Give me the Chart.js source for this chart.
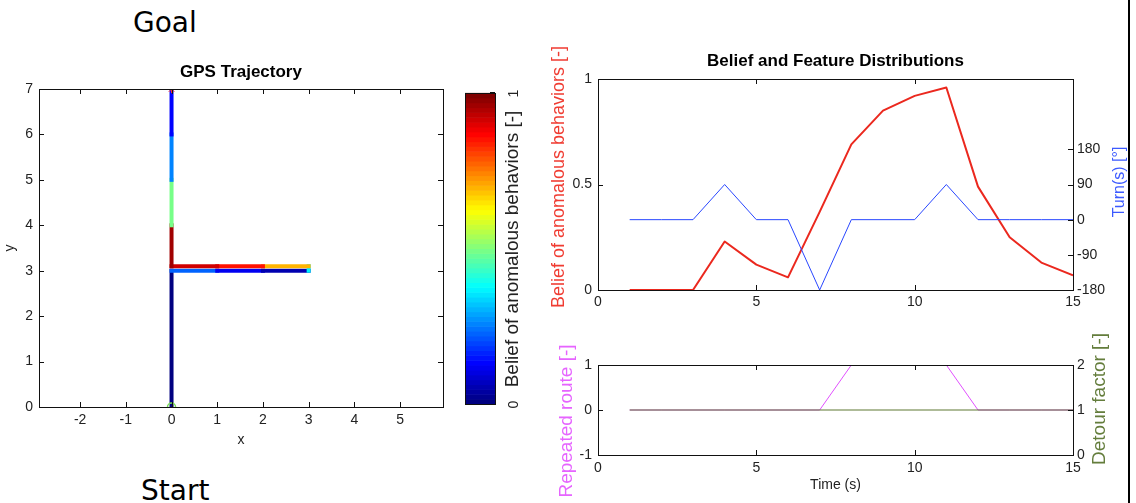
<!DOCTYPE html>
<html><head><meta charset="utf-8">
<script src="https://cdn.jsdelivr.net/npm/chart.js@4.4.1/dist/chart.umd.min.js"></script>
<style>
html,body{margin:0;padding:0;background:#fff;width:1136px;height:503px;overflow:hidden;position:relative;}
canvas{position:absolute;}
.big{position:absolute;font-family:'DejaVu Sans',sans-serif;font-size:28px;line-height:28px;color:#000;white-space:nowrap;}
#vline{position:absolute;left:1128px;top:0;width:2px;height:503px;background:#000;}
</style></head><body>
<div class="big" style="left:133px;top:9px;">Goal</div>
<div class="big" style="left:141px;top:477px;">Start</div>
<div id="vline"></div>
<canvas id="gps" width="460" height="420" style="left:0;top:40px;"></canvas>
<canvas id="cbar" width="340" height="80" style="left:0;top:0;transform-origin:0 0;transform:translate(460px,419px) rotate(-90deg);"></canvas>
<canvas id="r1" width="606" height="270" style="left:530px;top:40px;"></canvas>
<canvas id="r2" width="606" height="173" style="left:530px;top:330px;"></canvas>
<script>
// ---- data ----
const time = [1,2,3,4,5,6,7,8,9,10,11,12,13,14,15];
const belief = [0,0,0,0.23,0.12,0.06,0.37,0.69,0.85,0.92,0.96,0.49,0.25,0.13,0.07];
const turn = [0,0,0,90,0,0,-180,0,0,0,90,0,0,0,0];
const repeated = [0,0,0,0,0,0,0,1,1,1,1,0,0,0,0];
const detour = [1,1,1,1,1,1,1,1,1,1,1,1,1,1,1];
const timeTicks = [0,5,10,15];
const beliefTicks = [0,0.5,1];
const turnTicks = [-180,-90,0,90,180];
const repTicks = [-1,0,1];
const detourTicks = [0,1,2];
const trajX = [0,0,1,2,3,3,2,1,0,0,0,0,0];
const trajY = [0,3,3,3,3,3.1,3.1,3.1,3.1,4,5,6,7];
const segBelief = [0,0.23,0.12,0.06,0.37,0.69,0.85,0.92,0.96,0.49,0.25,0.13];
const gpsXTicks = [-2,-1,0,1,2,3,4,5];
const gpsYTicks = [0,1,2,3,4,5,6,7];
const cbTicks = [0,1];

Chart.defaults.font.family = "'Liberation Sans', Arial, sans-serif";
Chart.defaults.color = '#222';

function jet(v){
  const c = x => Math.max(0, Math.min(1, x));
  const r = c(1.5 - Math.abs(4*v - 3)), g = c(1.5 - Math.abs(4*v - 2)), b = c(1.5 - Math.abs(4*v - 1));
  return 'rgb(' + Math.round(r*255) + ',' + Math.round(g*255) + ',' + Math.round(b*255) + ')';
}
function jetQ(v){ const i = Math.min(63, Math.max(0, Math.floor(v*64))); return jet(i/63); }

function setTicks(arr){ return s => { s.ticks = arr.map(v => ({value: v})); }; }
const plainLabel = v => String(v);

function framePlugin(mirror){
  return {id:'frame', afterDatasetsDraw(chart){
    const ctx = chart.ctx, a = chart.chartArea, L = 5;
    ctx.save(); ctx.strokeStyle = '#111'; ctx.lineWidth = 1; ctx.beginPath();
    for (const id in chart.scales){
      const s = chart.scales[id];
      if (!s.options.display) continue;
      const m = mirror.includes(id);
      s.ticks.forEach(t => {
        const p = Math.round(s.getPixelForValue(t.value)) + 0.5;
        if (s.isHorizontal()){
          ctx.moveTo(p, a.bottom); ctx.lineTo(p, a.bottom - L);
          if (m){ ctx.moveTo(p, a.top); ctx.lineTo(p, a.top + L); }
        } else if (s.position === 'left'){
          ctx.moveTo(a.left, p); ctx.lineTo(a.left + L, p);
          if (m){ ctx.moveTo(a.right, p); ctx.lineTo(a.right - L, p); }
        } else {
          ctx.moveTo(a.right, p); ctx.lineTo(a.right - L, p);
        }
      });
    }
    ctx.stroke();
    ctx.strokeRect(Math.round(a.left) + 0.5, Math.round(a.top) + 0.5, Math.round(a.right - a.left), Math.round(a.bottom - a.top));
    ctx.restore();
  }};
}
function sideTitlePlugin(items){
  return {id:'sideTitles', afterDraw(chart){
    const ctx = chart.ctx;
    items.forEach(it => {
      ctx.save(); ctx.translate(it.x, it.y); ctx.rotate(-Math.PI/2);
      ctx.font = it.size + "px 'Liberation Sans', Arial, sans-serif";
      ctx.fillStyle = it.color; ctx.textAlign = 'center'; ctx.textBaseline = 'middle';
      ctx.fillText(it.text, 0, 0); ctx.restore();
    });
  }};
}
const cbarPlugin = {id:'cbar', beforeDatasetsDraw(chart){
  const ctx = chart.ctx, a = chart.chartArea, n = 64, w = (a.right - a.left)/n;
  for (let i = 0; i < n; i++){
    ctx.fillStyle = jet(i/(n-1));
    ctx.fillRect(a.left + i*w, a.top, w + 0.6, a.bottom - a.top);
  }
}};
const noGrid = {display:false, drawTicks:false};
const noBorder = {display:false};
const tickFont = {size:14};
const base = {responsive:false, animation:false, events:[], plugins:{legend:{display:false}, tooltip:{enabled:false}}};

// ---- GPS trajectory ----
new Chart(document.getElementById('gps'), {
  type:'scatter',
  data:{datasets:[
    {data:[{x:trajX[trajX.length-1], y:trajY[trajY.length-1]}], pointStyle:'star', pointRadius:4, borderColor:'#ff3333', borderWidth:1},
    {data:[{x:trajX[0], y:trajY[0]}], pointStyle:'circle', pointRadius:4, borderColor:'#77dd55', backgroundColor:'rgba(0,0,0,0)', borderWidth:1.5},
    {data: trajX.map((x,i) => ({x:x, y:trajY[i]})), showLine:true, borderWidth:4, pointRadius:0,
     borderColor: jetQ(segBelief[0]), borderCapStyle:'square', borderJoinStyle:'miter',
     segment:{borderColor: c => jetQ(segBelief[c.p0DataIndex])}}
  ]},
  options:Object.assign({}, base, {
    layout:{padding:{left:0, right:17, top:0, bottom:0}},
    plugins:Object.assign({}, base.plugins, {title:{display:true, text:'GPS Trajectory', fullSize:false, color:'#000', font:{size:17, weight:'bold'}, padding:{top:21.8, bottom:6.8}}}),
    scales:{
      x:{type:'linear', min:-2.9, max:5.94, afterBuildTicks:setTicks(gpsXTicks), afterFit:s=>{s.height=53;}, grid:noGrid, border:noBorder,
         ticks:{padding:4.6, font:tickFont, autoSkip:false, maxRotation:0, callback:plainLabel}, title:{display:true, text:'x', font:{size:14}, padding:{top:0, bottom:11.6}}},
      y:{type:'linear', min:0, max:7, afterBuildTicks:setTicks(gpsYTicks), afterFit:s=>{s.width=39;}, grid:noGrid, border:noBorder,
         ticks:{padding:6, font:tickFont, autoSkip:false, callback:plainLabel}, title:{display:true, text:'y', font:{size:14}, padding:{top:1.6, bottom:0}}}
    }
  }),
  plugins:[framePlugin(['x','y'])]
});

// ---- colorbar (drawn horizontally, rotated by CSS) ----
new Chart(document.getElementById('cbar'), {
  type:'scatter',
  data:{datasets:[]},
  options:Object.assign({}, base, {
    layout:{padding:{left:11, right:11, top:5, bottom:0}},
    scales:{
      x:{type:'linear', position:'bottom', min:0, max:1, afterBuildTicks:setTicks(cbTicks), afterFit:s=>{s.height=45;}, grid:noGrid, border:noBorder,
         ticks:{padding:10.6, font:tickFont, autoSkip:false, maxRotation:0, callback:plainLabel},
         title:{display:true, text:'Belief of anomalous behaviors [-]', font:{size:19}, padding:{top:0, bottom:15.6}}},
      y:{display:false, min:0, max:1}
    }
  }),
  plugins:[cbarPlugin, framePlugin([])]
});

// ---- Belief and Feature Distributions ----
new Chart(document.getElementById('r1'), {
  type:'scatter',
  data:{datasets:[
    {label:'Turn(s)', data: time.map((t,i) => ({x:t, y:turn[i]})), yAxisID:'y2', showLine:true, pointRadius:0, borderWidth:1, borderColor:'rgb(40,70,255)'},
    {label:'Belief', data: time.map((t,i) => ({x:t, y:belief[i]})), yAxisID:'y', showLine:true, pointRadius:0, borderWidth:2, borderColor:'rgb(235,40,30)', borderJoinStyle:'round'}
  ]},
  options:Object.assign({}, base, {
    layout:{padding:0},
    plugins:Object.assign({}, base.plugins, {title:{display:true, text:'Belief and Feature Distributions', fullSize:false, color:'#000', font:{size:17, weight:'bold'}, padding:{top:10.8, bottom:7.8}}}),
    scales:{
      x:{type:'linear', min:0, max:15, afterBuildTicks:setTicks(timeTicks), afterFit:s=>{s.height=20;}, grid:noGrid, border:noBorder, ticks:{padding:3.6, font:tickFont, autoSkip:false, maxRotation:0, callback:plainLabel}},
      y:{type:'linear', position:'left', min:0, max:1, afterBuildTicks:setTicks(beliefTicks), afterFit:s=>{s.width=68;}, grid:noGrid, border:noBorder, ticks:{padding:6, font:tickFont, autoSkip:false, callback:plainLabel}},
      y2:{type:'linear', position:'right', min:-180, max:360, afterBuildTicks:setTicks(turnTicks), afterFit:s=>{s.width=63;}, grid:noGrid, border:noBorder, ticks:{padding:4, font:tickFont, autoSkip:false, callback:plainLabel}}
    }
  }),
  plugins:[framePlugin(['x']), sideTitlePlugin([
    {text:'Belief of anomalous behaviors [-]', color:'rgb(240,60,50)', size:18, x:29, y:137},
    {text:'Turn(s) [\u00B0]', color:'rgb(60,90,255)', size:16, x:590, y:142}
  ])]
});

// ---- Repeated route / Detour factor ----
new Chart(document.getElementById('r2'), {
  type:'scatter',
  data:{datasets:[
    {label:'Detour factor', data: time.map((t,i) => ({x:t, y:detour[i]})), yAxisID:'y2', showLine:true, pointRadius:0, borderWidth:1.2, borderColor:'rgb(95,120,50)'},
    {label:'Repeated route', data: time.map((t,i) => ({x:t, y:repeated[i]})), yAxisID:'y', showLine:true, pointRadius:0, borderWidth:1, borderColor:'rgb(225,80,255)'}
  ]},
  options:Object.assign({}, base, {
    layout:{padding:{top:35, left:0, right:0, bottom:0}},
    scales:{
      x:{type:'linear', min:0, max:15, afterBuildTicks:setTicks(timeTicks), afterFit:s=>{s.height=48;}, grid:noGrid, border:noBorder, ticks:{padding:4.6, font:tickFont, autoSkip:false, maxRotation:0, callback:plainLabel},
         title:{display:true, text:'Time (s)', font:{size:14}, padding:{top:0, bottom:9.6}}},
      y:{type:'linear', position:'left', min:-1, max:1, afterBuildTicks:setTicks(repTicks), afterFit:s=>{s.width=68;}, grid:noGrid, border:noBorder, ticks:{padding:6, font:tickFont, autoSkip:false, callback:plainLabel}},
      y2:{type:'linear', position:'right', min:0, max:2, afterBuildTicks:setTicks(detourTicks), afterFit:s=>{s.width=63;}, grid:noGrid, border:noBorder, ticks:{padding:4, font:tickFont, autoSkip:false, callback:plainLabel}}
    }
  }),
  plugins:[framePlugin(['x']), sideTitlePlugin([
    {text:'Repeated route [-]', color:'rgb(230,100,255)', size:19, x:37, y:91},
    {text:'Detour factor [-]', color:'rgb(100,125,60)', size:19, x:570, y:69}
  ])]
});
</script>
</body></html>
